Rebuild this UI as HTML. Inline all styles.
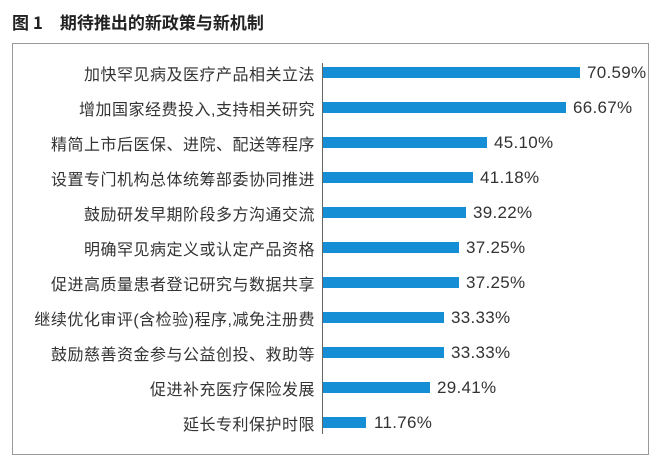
<!DOCTYPE html>
<html><head><meta charset="utf-8"><style>
body{margin:0;background:#fff;width:655px;height:466px;position:relative;font-family:"Liberation Sans","Noto Sans CJK SC",sans-serif;color:#333}
.t{position:absolute;left:12px;top:9px;font-size:17px;color:#222;font-weight:bold;font-family:"Noto Sans CJK SC",sans-serif}
.box{position:absolute;left:12px;top:43px;width:637px;height:412px;border:1px solid #999;box-sizing:border-box}
.ax{position:absolute;left:322px;top:63px;width:1px;height:371px;background:#666}
.l{position:absolute;right:340px;font-size:16px;letter-spacing:0.5px;white-space:nowrap;line-height:16px;font-family:"Noto Sans CJK SC",sans-serif;color:#333}
.b{position:absolute;left:323px;height:11px;background:#168ed6}
.v{position:absolute;font-size:17px;line-height:16px;color:#333;white-space:nowrap;letter-spacing:0.3px}
</style></head><body>
<div class="t">图 1　期待推出的新政策与新机制</div>
<div class="box"></div>
<div class="ax"></div>
<div class="l" style="top:65px">加快罕见病及医疗产品相关立法</div><div class="b" style="top:67px;width:257px"></div><div class="v" style="left:587px;top:65px">70.59%</div>
<div class="l" style="top:100px">增加国家经费投入<span style="font-family:'Liberation Sans'">,</span>支持相关研究</div><div class="b" style="top:102px;width:243px"></div><div class="v" style="left:573px;top:100px">66.67%</div>
<div class="l" style="top:135px">精简上市后医保、进院、配送等程序</div><div class="b" style="top:137px;width:164px"></div><div class="v" style="left:494px;top:135px">45.10%</div>
<div class="l" style="top:170px">设置专门机构总体统筹部委协同推进</div><div class="b" style="top:172px;width:150px"></div><div class="v" style="left:480px;top:170px">41.18%</div>
<div class="l" style="top:205px">鼓励研发早期阶段多方沟通交流</div><div class="b" style="top:207px;width:143px"></div><div class="v" style="left:473px;top:205px">39.22%</div>
<div class="l" style="top:240px">明确罕见病定义或认定产品资格</div><div class="b" style="top:242px;width:136px"></div><div class="v" style="left:466px;top:240px">37.25%</div>
<div class="l" style="top:275px">促进高质量患者登记研究与数据共享</div><div class="b" style="top:277px;width:136px"></div><div class="v" style="left:466px;top:275px">37.25%</div>
<div class="l" style="top:310px">继续优化审评<span style="font-family:'Liberation Sans'">(</span>含检验<span style="font-family:'Liberation Sans'">)</span>程序<span style="font-family:'Liberation Sans'">,</span>减免注册费</div><div class="b" style="top:312px;width:121px"></div><div class="v" style="left:451px;top:310px">33.33%</div>
<div class="l" style="top:345px">鼓励慈善资金参与公益创投、救助等</div><div class="b" style="top:347px;width:121px"></div><div class="v" style="left:451px;top:345px">33.33%</div>
<div class="l" style="top:380px">促进补充医疗保险发展</div><div class="b" style="top:382px;width:107px"></div><div class="v" style="left:437px;top:380px">29.41%</div>
<div class="l" style="top:415px">延长专利保护时限</div><div class="b" style="top:417px;width:43px"></div><div class="v" style="left:374px;top:415px">11.76%</div>
</body></html>
